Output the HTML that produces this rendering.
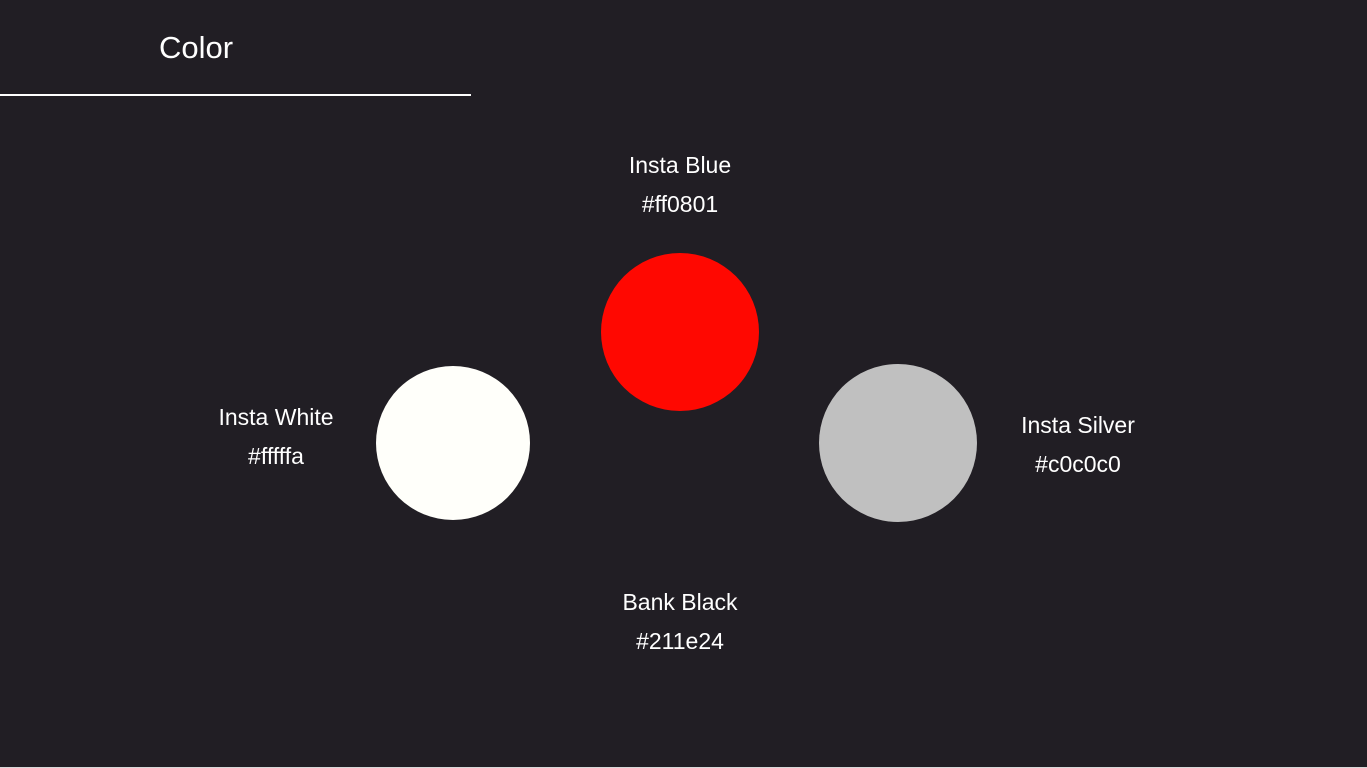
<!DOCTYPE html>
<html><head><meta charset="utf-8"><style>
html,body{margin:0;padding:0;}
body{width:1367px;height:768px;background:#211e24;position:relative;overflow:hidden;font-family:"Liberation Sans",sans-serif;color:#fff;}
.t{position:absolute;transform:translateX(-50%);text-align:center;font-size:23px;line-height:39px;white-space:nowrap;}
.c{position:absolute;border-radius:50%;}
</style></head><body>
<div style="position:absolute;left:159px;top:30px;font-size:31px;line-height:36px;">Color</div>
<div style="position:absolute;left:0;top:94px;width:471px;height:2px;background:#fff;"></div>
<div class="t" style="left:680px;top:146px;">Insta Blue<br>#ff0801</div>
<div class="c" style="left:601px;top:253px;width:158px;height:158px;background:#ff0801;"></div>
<div class="t" style="left:276px;top:398px;">Insta White<br>#fffffa</div>
<div class="c" style="left:376px;top:366px;width:154px;height:154px;background:#fffffa;"></div>
<div class="c" style="left:819px;top:364px;width:158px;height:158px;background:#c0c0c0;"></div>
<div class="t" style="left:1078px;top:406px;">Insta Silver<br>#c0c0c0</div>
<div class="t" style="left:680px;top:583px;">Bank Black<br>#211e24</div>
<div style="position:absolute;left:0;top:767px;width:1367px;height:1px;background:#d8d8d8;"></div>
</body></html>
